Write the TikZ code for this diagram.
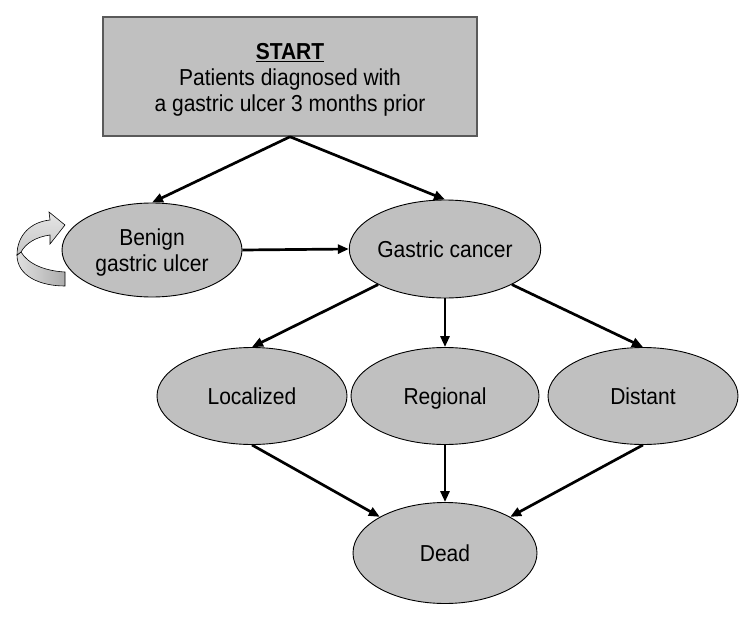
\documentclass[tikz,border=0pt]{standalone}
\usepackage{graphicx}
\usepackage{fontspec}
\setmainfont{Liberation Sans}
\usetikzlibrary{shapes.geometric,arrows.meta}
\definecolor{boxgray}{RGB}{192,192,192}
\definecolor{edgegray}{RGB}{90,90,90}
\newcommand{\tx}[1]{\raisebox{-3.5pt}[\height][\depth]{\scalebox{1}[1.1]{\begin{tabular}{@{}c@{}}#1\end{tabular}}}}
\begin{document}
\begin{tikzpicture}[x=1pt,y=-1pt,
  every node/.style={font=\fontsize{21}{23.6}\selectfont, text=black},
  startbox/.style={rectangle, fill=boxgray, draw=edgegray, line width=1.5pt, inner sep=0pt},
  state/.style={ellipse, fill=boxgray, draw=black, line width=0.9pt, align=center, inner sep=0pt, minimum width=186pt, minimum height=98pt},
  flow/.style={line width=2.7pt, -{Triangle[length=11pt,width=9pt]}}
]
\useasboundingbox (0,0) rectangle (753,621);
\node[startbox, minimum width=374pt, minimum height=119pt] (start) at (290,76.5) {};
\node[inner sep=0pt] (starttext) at (290,77)
  {\tx{\underline{\textbf{START}}\\Patients diagnosed with\\a gastric ulcer 3 months prior}};
\node[state, minimum width=180pt, minimum height=94pt] (benign) at (152,250) {\tx{Benign\\gastric ulcer}};
\node[state, minimum width=184pt] (gc) at (445,249) {\tx{Gastric cancer}};
\node[state, minimum width=190pt, minimum height=97pt] (loc) at (252,396) {\tx{Localized}};
\node[state, minimum width=188pt, minimum height=97pt] (reg) at (445,396) {\tx{Regional}};
\node[state, minimum width=190pt, minimum height=97pt] (dist) at (643,396) {\tx{Distant}};
\node[state, minimum width=184pt, minimum height=101pt] (dead) at (445,553) {\tx{Dead}};

\draw[flow] (start.south) -- (benign.north);
\draw[flow] (start.south) -- (gc.north);
\draw[flow] (benign.east) -- (gc.west);
\draw[flow] (gc.208) -- (loc.north);
\draw[flow] (gc.south) -- (reg.north);
\draw[flow] (gc.332) -- (dist.north);
\draw[flow] (loc.south) -- (dead.151);
\draw[flow] (reg.south) -- (dead.north);
\draw[flow] (dist.south) -- (dead.29);

% self-loop curved ribbon arrow
\path[draw=black, line width=0.6pt, left color=gray!25, right color=gray!65]
  (17,255) .. controls (17,276) and (40,286) .. (65,286) -- (65,272)
  .. controls (45,271) and (28,264) .. (21,252) -- cycle;
\path[draw=black, line width=0.6pt, top color=gray!20, bottom color=gray!45]
  (17,255) .. controls (17,236) and (30,222) .. (50,220) -- (49,212) -- (65,225)
  -- (50,244) -- (50,235) .. controls (36,237) and (26,243) .. (21,252) -- cycle;
\end{tikzpicture}
\end{document}
